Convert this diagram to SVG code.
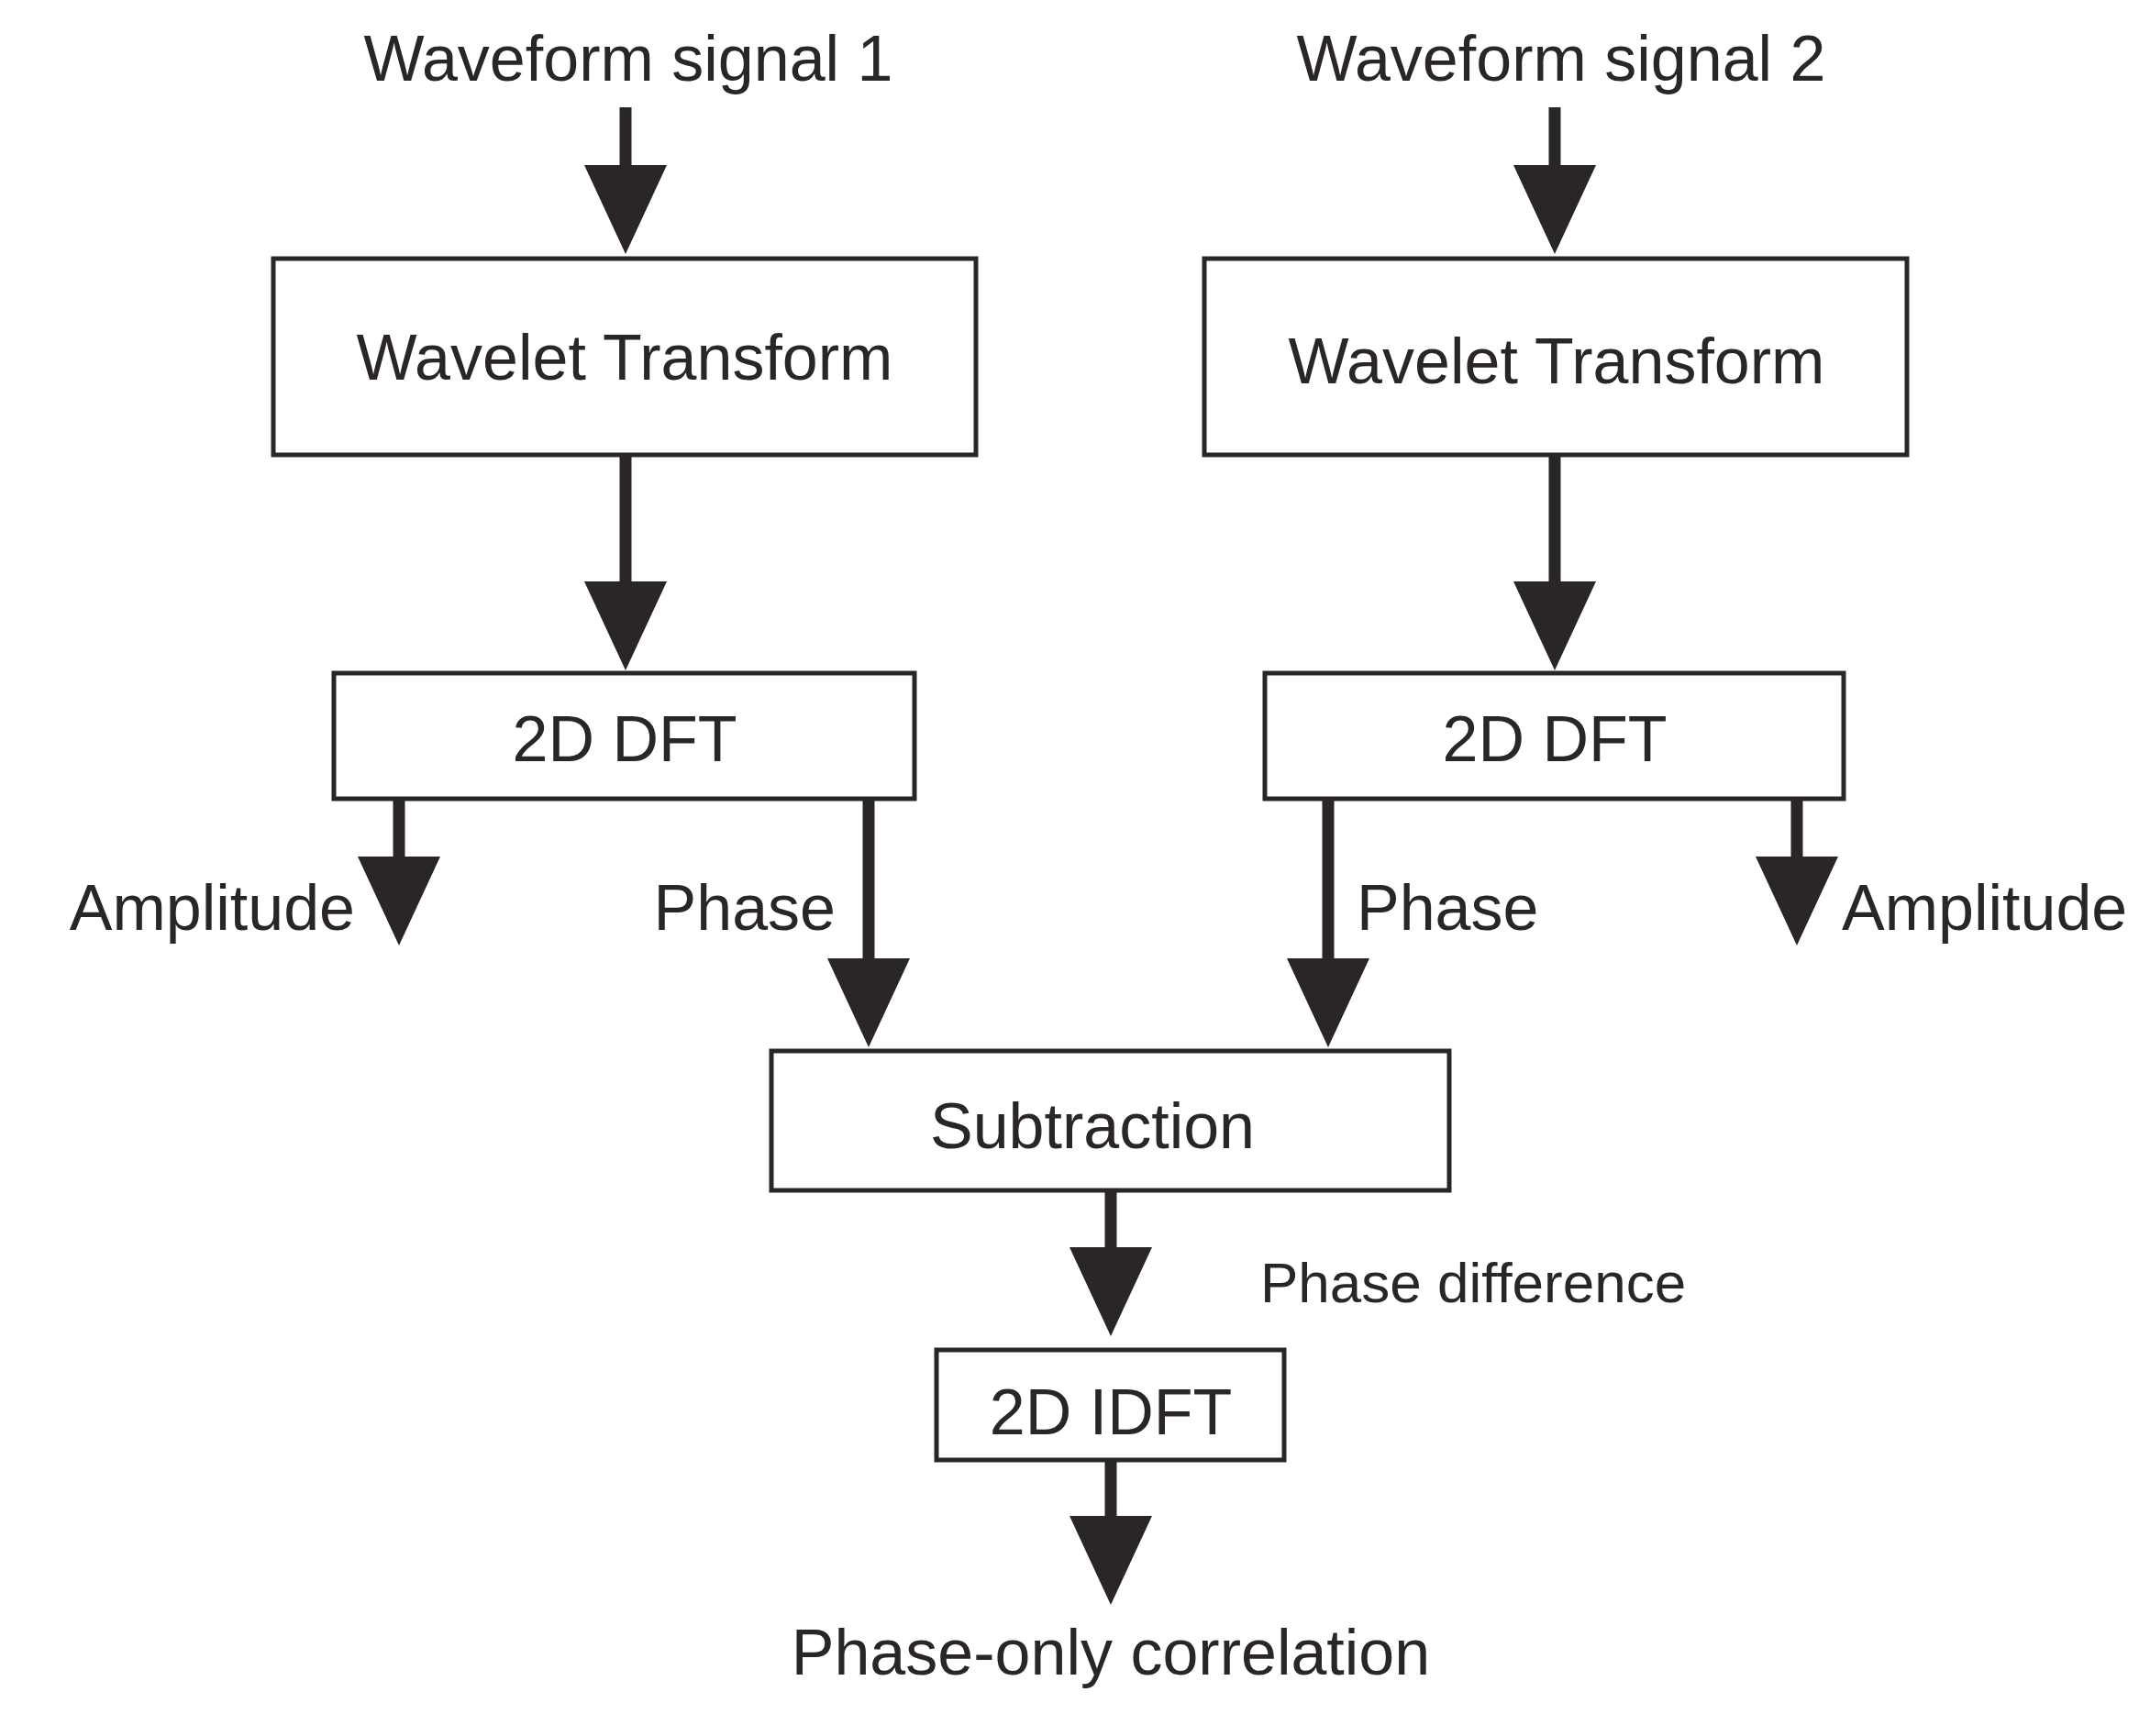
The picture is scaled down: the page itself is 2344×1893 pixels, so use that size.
<svg xmlns="http://www.w3.org/2000/svg" width="2344" height="1893" viewBox="0 0 2344 1893">
<defs><style>
.b{fill:#fff;stroke:#2b2626;stroke-width:5}
.t{font-family:"Liberation Sans",Arial,sans-serif;font-size:70px;fill:#2b2626}
.s{stroke:#2b2626;stroke-width:13;fill:none}
.h{fill:#2b2626}
</style></defs>
<rect width="2344" height="1893" fill="#fff"/>
<text class="t" x="685" y="88" text-anchor="middle">Waveform signal 1</text>
<text class="t" x="1702" y="88" text-anchor="middle">Waveform signal 2</text>
<g id="wt1"><rect class="b" x="298" y="282" width="766" height="214"/><text class="t" x="681" y="414" text-anchor="middle">Wavelet Transform</text></g>
<g id="wt2"><rect class="b" x="1313" y="282" width="766" height="214"/><text class="t" x="1697" y="418" text-anchor="middle">Wavelet Transform</text></g>
<g id="dft1"><rect class="b" x="364" y="734" width="633" height="137"/><text class="t" x="681" y="830" text-anchor="middle">2D DFT</text></g>
<g id="dft2"><rect class="b" x="1379" y="734" width="631" height="137"/><text class="t" x="1695" y="830" text-anchor="middle">2D DFT</text></g>
<g id="sub"><rect class="b" x="841" y="1146" width="739" height="152"/><text class="t" x="1191" y="1252" text-anchor="middle">Subtraction</text></g>
<g id="idft"><rect class="b" x="1021" y="1472" width="379" height="120"/><text class="t" x="1211" y="1564" text-anchor="middle">2D IDFT</text></g>
<text class="t" x="387" y="1014" text-anchor="end">Amplitude</text>
<text class="t" x="911" y="1014" text-anchor="end">Phase</text>
<text class="t" x="1479" y="1014">Phase</text>
<text class="t" x="2008" y="1014">Amplitude</text>
<text class="t" x="1374" y="1420" style="font-size:62px">Phase difference</text>
<text class="t" x="1211" y="1826" text-anchor="middle">Phase-only correlation</text>
<g id="connectors">
<path class="s" d="M682 117V190M1695 117V190M682 496V640M1695 496V640M435 871V940M1959 871V940M947 871V1050M1448 871V1050M1211 1298V1365M1211 1592V1660"/>
<path class="h" d="M637 180h90l-45 97zM1650 180h90l-45 97zM637 634h90l-45 97zM1650 634h90l-45 97zM390 934h90l-45 97zM1914 934h90l-45 97zM902 1045h90l-45 97zM1403 1045h90l-45 97zM1166 1360h90l-45 97zM1166 1653h90l-45 97z"/>
</g>
</svg>
